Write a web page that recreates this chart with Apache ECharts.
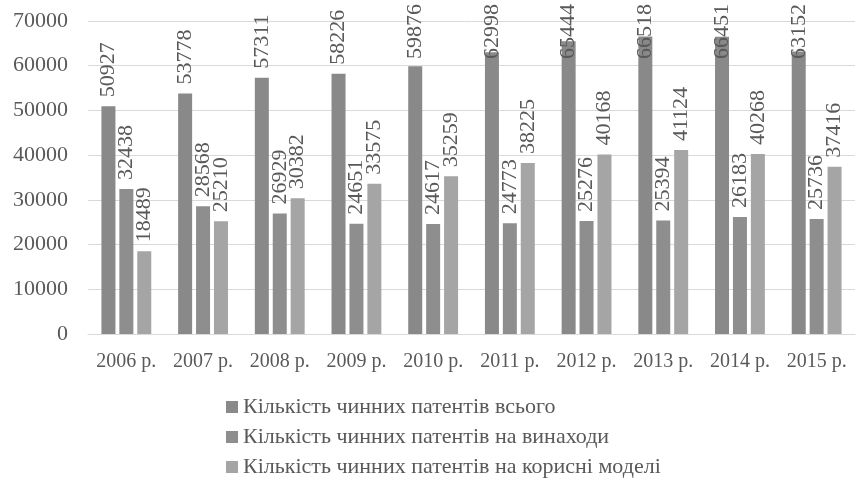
<!DOCTYPE html>
<html>
<head>
<meta charset="utf-8">
<script src="https://cdn.jsdelivr.net/npm/echarts@6/dist/echarts.min.js"></script>
<style>
html, body { margin: 0; padding: 0; background: #fff; }
#chart { width: 861px; height: 487px; }
</style>
</head>
<body>
<div id="chart"></div>
<script>
var years = ['2006 р.', '2007 р.', '2008 р.', '2009 р.', '2010 р.', '2011 р.', '2012 р.', '2013 р.', '2014 р.', '2015 р.'];
var totalPatents = [50927, 53778, 57311, 58226, 59876, 62998, 65444, 66518, 66451, 63152];
var inventionPatents = [32438, 28568, 26929, 24651, 24617, 24773, 25276, 25394, 26183, 25736];
var utilityPatents = [18489, 25210, 30382, 33575, 35259, 38225, 40168, 41124, 40268, 37416];

var seriesNames = [
    'Кількість чинних патентів всього',
    'Кількість чинних патентів на винаходи',
    'Кількість чинних патентів на корисні моделі'
];
var seriesColors = ['#898989', '#8e8e8e', '#a5a5a5'];

var font = 'Liberation Serif';
var textColor = '#595959';

function barSeries(name, data, color) {
    return {
        name: name,
        type: 'bar',
        data: data,
        barWidth: 14,
        barGap: '28%',
        itemStyle: { color: color },
        label: {
            show: true,
            position: 'top',
            rotate: 90,
            align: 'left',
            verticalAlign: 'middle',
            distance: 9,
            color: textColor,
            fontSize: 22,
            fontFamily: font
        },
        // keep labels inside the chart like excel does
        labelLayout: function (params) {
            var r = params.labelRect;
            if (r.y < 4) {
                return { y: 4 + r.height };
            }
        }
    };
}

var myChart = echarts.init(document.getElementById('chart'));

var option = {
    animation: false,
    textStyle: { fontFamily: font },
    grid: {
        left: 88,
        right: 6,
        top: 21,
        bottom: 153
    },
    legend: {
        orient: 'vertical',
        left: 221,
        top: 391,
        itemWidth: 12,
        itemHeight: 12,
        itemGap: 8,
        icon: 'rect',
        textStyle: {
            color: textColor,
            fontSize: 22,
            fontFamily: font
        },
        data: seriesNames
    },
    xAxis: {
        type: 'category',
        data: years,
        axisTick: { show: false },
        axisLine: { lineStyle: { color: '#d9d9d9' } },
        axisLabel: {
            interval: 0,
            color: textColor,
            fontSize: 20,
            fontFamily: font,
            margin: 18
        }
    },
    yAxis: {
        type: 'value',
        min: 0,
        max: 70000,
        interval: 10000,
        axisLine: { show: false },
        axisTick: { show: false },
        splitLine: { lineStyle: { color: '#d9d9d9' } },
        axisLabel: {
            formatter: function (v) { return String(v); },
            color: textColor,
            fontSize: 22,
            fontFamily: font,
            margin: 20
        }
    },
    series: [
        barSeries(seriesNames[0], totalPatents, seriesColors[0]),
        barSeries(seriesNames[1], inventionPatents, seriesColors[1]),
        barSeries(seriesNames[2], utilityPatents, seriesColors[2])
    ]
};

myChart.setOption(option);
</script>
</body>
</html>
